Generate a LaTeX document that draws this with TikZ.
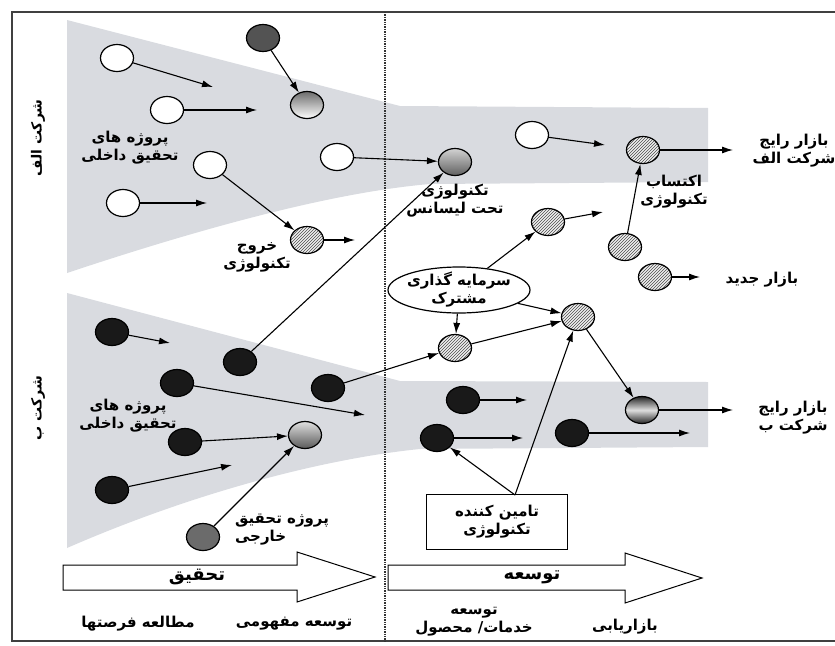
\documentclass[tikz,border=0pt]{standalone}
\usepackage{fontspec}
\newfontfamily\arabicfont[Script=Arabic]{DejaVu Sans}
\TeXXeTstate=1
\usetikzlibrary{arrows.meta,shapes.geometric,patterns}
\newcommand{\fa}[1]{\beginR#1\endR}
\definecolor{bandgray}{RGB}{217,219,224}
\definecolor{nodeblack}{RGB}{25,25,25}
\begin{document}
\begin{tikzpicture}[x=1pt,y=-1pt,
  every node/.style={inner sep=0pt},
  proj/.style={ellipse, draw=black, line width=1.2pt, minimum width=33pt, minimum height=27pt},
  wn/.style={proj, fill=white},
  bn/.style={proj, fill=nodeblack},
  hn/.style={proj, preaction={fill=gray!12}, pattern=north east lines, pattern color=black!70},
  lbl/.style={font=\arabicfont\bfseries\fontsize{15}{18}\selectfont, align=center},
  vlbl/.style={font=\arabicfont\bfseries\fontsize{14}{17}\selectfont, rotate=90},
  big/.style={font=\arabicfont\bfseries\fontsize{18}{20}\selectfont},
  conn/.style={line width=1.1pt, -{Latex[length=11pt,width=7pt]}},
]
\useasboundingbox (0,0) rectangle (835,645);
% bands
\fill[bandgray] (67,20) -- (400,106) -- (708,108) -- (708,182) -- (430,184) .. controls (360,190) and (250,212) .. (67,273) -- cycle;
\fill[bandgray] (67,293) -- (400,381) -- (708,382) -- (708,447) -- (420,449) .. controls (330,458) and (200,490) .. (67,548) -- cycle;
% frame and divider
\draw[line width=1.2pt, black!75] (835,12) -- (12,12) -- (12,641) -- (835,641);
\draw[line width=1.4pt, densely dotted, black!80] (385,12) -- (385,641);
% phase arrows
\draw[line width=1pt, fill=white] (63,565) -- (297,565) -- (297,552) -- (375,577) -- (297,602) -- (297,590) -- (63,590) -- cycle;
\draw[line width=1pt, fill=white] (388,565) -- (625,565) -- (625,553) -- (702,578) -- (625,603) -- (625,590) -- (388,590) -- cycle;
% nodes company A
\node[wn] (w1) at (117,58) {};
\node[proj, fill=gray!65!black] (d1) at (263,38) {};
\node[wn] (w2) at (167,110) {};
\node[proj, top color=gray!85!black, bottom color=white] (g1) at (307,105) {};
\node[wn] (w3) at (210,165) {};
\node[wn] (w4) at (123,203) {};
\node[hn] (h1) at (307,240) {};
\node[wn] (w5) at (337,157) {};
\node[proj, top color=gray!35, bottom color=gray!75!black] (g2) at (455,162) {};
\node[wn] (w6) at (532,135) {};
\node[hn] (h2) at (643,150) {};
\node[hn] (h3) at (625,247) {};
\node[hn] (h4) at (548,222) {};
\node[ellipse, draw, line width=1.2pt, fill=white, minimum width=142pt, minimum height=46pt] (jv) at (459,290) {};
\node[lbl] (jvt) at (jv.center) {\fa{سرمایه گذاری}\\\fa{مشترک}};
\node[hn] (h5) at (455,348) {};
\node[hn] (h6) at (578,317) {};
\node[hn] (h7) at (655,277) {};
% nodes company B
\node[proj, top color=black!85, bottom color=black!85, middle color=gray!25] (g3) at (642,410) {};
\node[bn] (k1) at (463,400) {};
\node[bn] (k2) at (437,438) {};
\node[bn] (k3) at (572,433) {};
\node[draw, line width=1.2pt, fill=white, minimum width=141pt, minimum height=55pt, lbl] (sup) at (497,522) {\fa{تامین کننده}\\\fa{تکنولوژی}};
\node[bn] (b1) at (112,332) {};
\node[bn] (b2) at (240,362) {};
\node[bn] (b3) at (328,388) {};
\node[bn] (b4) at (177,383) {};
\node[bn] (b5) at (185,442) {};
\node[proj, top color=gray!25, bottom color=gray!70!black] (g4) at (305,435) {};
\node[bn] (b6) at (112,490) {};
\node[proj, fill=black!58] (b7) at (203,537) {};
% free arrow ends
\coordinate (e1) at (213,87);
\coordinate (e2) at (257,110);
\coordinate (e4) at (207,203);
\coordinate (eh1) at (355,240);
\coordinate (e6) at (605,145);
\coordinate (eh2) at (733,150);
\coordinate (eh4) at (603,212);
\coordinate (eh7) at (700,277);
\coordinate (eg3) at (733,410);
\coordinate (ek1) at (527,400);
\coordinate (ek2) at (523,438);
\coordinate (ek3) at (690,433);
\coordinate (eb1) at (170,343);
\coordinate (eb4) at (365,415);
\coordinate (eb6) at (232,465);
\coordinate (st) at (515,495);
% connectors
\draw[conn] (w1) -- (e1);
\draw[conn] (d1) -- (g1);
\draw[conn] (w2) -- (e2);
\draw[conn] (w3) -- (h1);
\draw[conn] (w4) -- (e4);
\draw[conn] (h1) -- (eh1);
\draw[conn] (w5) -- (g2);
\draw[conn] (b2) -- (g2);
\draw[conn] (w6) -- (e6);
\draw[conn] (h2) -- (eh2);
\draw[conn] (h3) -- (h2);
\draw[conn] (h4) -- (eh4);
\draw[conn] (jv) -- (h4);
\draw[conn] (jv) -- (h5);
\draw[conn] (jv) -- (h6);
\draw[conn] (h7) -- (eh7);
\draw[conn] (b3) -- (h5);
\draw[conn] (h5) -- (h6);
\draw[conn] (h6) -- (g3);
\draw[conn] (g3) -- (eg3);
\draw[conn] (k1) -- (ek1);
\draw[conn] (k2) -- (ek2);
\draw[conn] (k3) -- (ek3);
\draw[conn] (st) -- (k2);
\draw[conn] (st) -- (h6);
\draw[conn] (b1) -- (eb1);
\draw[conn] (b4) -- (eb4);
\draw[conn] (b5) -- (g4);
\draw[conn] (b6) -- (eb6);
\draw[conn] (b7) -- (g4);
% labels
\node[lbl] (tA1) at (130,148) {\fa{پروژه های}\\\fa{تحقیق داخلی}};
\node[lbl] (tExit) at (257,257) {\fa{خروج}\\\fa{تکنولوژی}};
\node[lbl] (tLic) at (455,201) {\fa{تکنولوژی}\\\fa{تحت لیسانس}};
\node[lbl] (tAcq) at (674,192) {\fa{اکتساب}\\\fa{تکنولوژی}};
\node[lbl] (tMA) at (794,151) {\fa{بازار رایج}\\\fa{شرکت الف}};
\node[lbl] (tNew) at (762,280) {\fa{بازار جدید}};
\node[lbl] (tMB) at (793,418) {\fa{بازار رایج}\\\fa{شرکت ب}};
\node[lbl] (tB1) at (128,416) {\fa{پروژه های}\\\fa{تحقیق داخلی}};
\node[lbl, align=left] (tExt) at (282,530) {\fa{پروژه تحقیق}\\\fa{خارجی}};
\node[vlbl] (cA) at (38,138) {\fa{شرکت الف}};
\node[vlbl] (cB) at (38,408) {\fa{شرکت ب}};
\node[big] (tRes) at (197,577) {\fa{تحقیق}};
\node[big] (tDev) at (532,577) {\fa{توسعه}};
\node[lbl] (s1) at (138,624) {\fa{مطالعه فرصتها}};
\node[lbl] (s2) at (294,624) {\fa{توسعه مفهومی}};
\node[lbl] (s3) at (474,622) {\fa{توسعه}\\\fa{خدمات/ محصول}};
\node[lbl] (s4) at (625,627) {\fa{بازاریابی}};
\end{tikzpicture}
\end{document}
